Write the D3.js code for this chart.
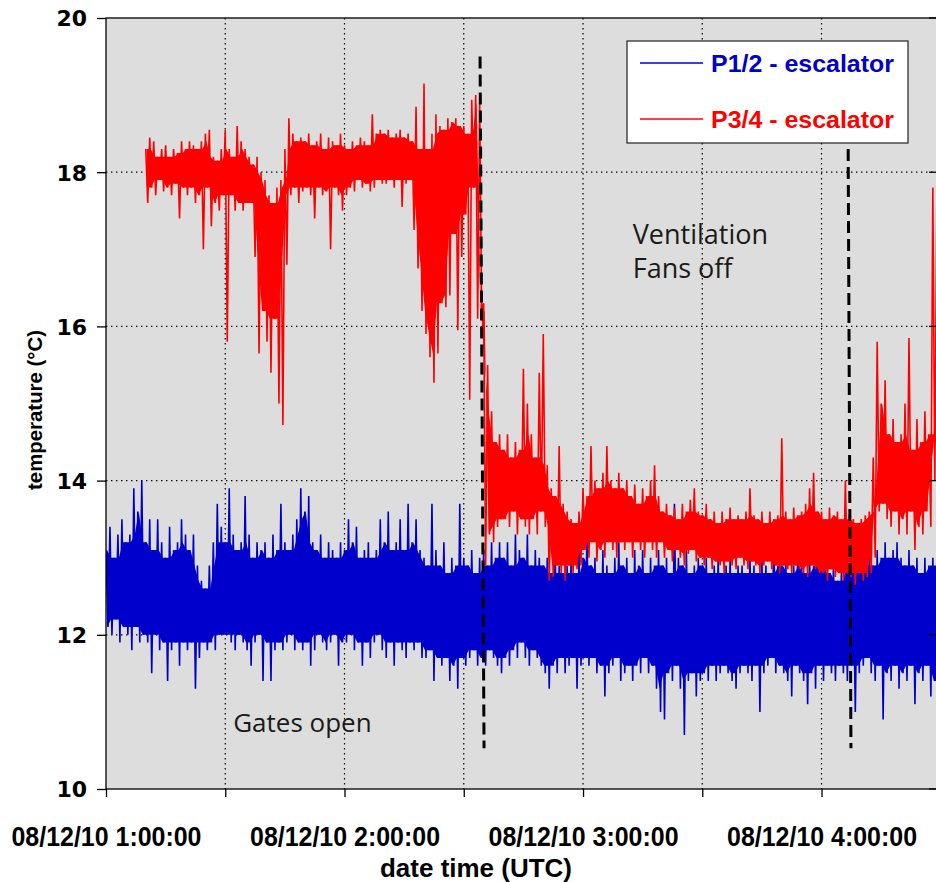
<!DOCTYPE html>
<html><head><meta charset="utf-8">
<script src="https://cdn.jsdelivr.net/npm/d3@7"></script>
<style>body{margin:0;background:#fff;}svg{display:block;}</style>
</head><body>
<svg id="chart" width="936" height="882"></svg>
<script>
// ---------- data (minutes after 08/12/10 1:00:00 UTC, temperature in °C) ----------
const yTicks = [10, 12, 14, 16, 18, 20];
const xTickMinutes = [0, 30, 60, 90, 120, 150, 180];
const xTickLabels = {0: "08/12/10 1:00:00", 60: "08/12/10 2:00:00", 120: "08/12/10 3:00:00", 180: "08/12/10 4:00:00"};
const seriesNames = ["P1/2 - escalator", "P3/4 - escalator"];
const seriesColors = ["#0000cc", "#ff0000"];

// P1/2 escalator: per-minute high / low readings, starting at minute 0
const blueStart = 0;
const blueHi = [
13.1,13.4,13.0,13.3,13.5,13.2,13.3,13.9,13.6,14.0,
13.2,13.5,13.1,13.5,13.2,13.0,13.4,13.1,13.2,13.5,
13.3,13.1,13.3,12.9,12.7,12.6,12.9,13.2,13.7,13.4,
13.2,13.9,13.3,13.1,13.2,13.8,13.3,13.0,13.2,13.1,
13.2,13.0,13.3,13.1,13.7,13.2,13.1,13.3,13.5,13.9,
13.6,13.8,13.2,13.1,13.3,13.0,13.2,13.1,13.0,13.2,
13.1,13.5,13.2,13.4,13.0,13.1,13.2,13.0,13.1,13.5,
13.2,13.6,13.1,13.2,13.5,13.1,13.7,13.2,13.5,13.1,
13.0,12.9,13.7,13.1,12.9,13.2,12.8,13.0,12.9,13.7,
13.0,12.9,13.1,12.8,13.0,13.1,12.9,13.2,13.0,13.2,
13.0,13.2,12.9,13.3,13.1,13.0,13.3,12.9,13.1,13.0,
12.9,13.0,12.8,13.1,12.9,12.8,12.9,13.0,12.8,13.1,
13.0,13.3,12.9,13.0,12.8,13.1,12.9,12.8,13.0,13.2,
12.9,13.0,12.8,13.1,12.9,13.1,12.8,13.0,12.9,13.1,
12.9,13.0,12.8,13.7,13.0,12.9,13.1,12.8,12.9,13.0,
12.9,13.0,12.8,12.9,13.0,12.8,12.9,13.0,12.8,12.9,
12.9,12.8,13.0,12.9,12.8,13.0,12.9,12.8,13.3,12.9,
12.9,13.0,12.8,12.9,13.0,12.9,12.8,13.0,12.9,13.1,
12.9,13.0,12.8,12.9,12.7,12.8,13.0,12.9,12.8,12.9,
13.0,12.9,13.0,12.9,13.1,13.0,13.2,13.0,13.1,13.2,
13.0,12.9,13.1,12.9,13.0,12.8,13.0,12.9,13.0,12.9
];
const blueLo = [
12.1,12.0,12.2,11.9,12.1,12.0,11.8,12.1,11.9,12.0,
11.9,11.5,12.0,11.8,11.9,11.4,11.8,11.9,11.6,11.9,
11.8,11.9,11.3,11.7,11.9,11.8,11.9,11.8,12.0,12.0,
12.0,11.9,11.8,12.0,11.9,11.8,11.6,11.9,12.0,11.4,
11.9,11.4,11.8,11.9,11.8,11.9,12.0,11.8,11.9,11.8,
11.9,11.6,11.8,12.0,11.9,11.8,11.9,12.0,11.6,11.9,
11.9,12.0,11.8,11.9,11.6,11.9,11.7,11.9,12.0,11.8,
11.7,11.9,11.6,11.9,11.8,11.7,11.9,11.8,11.9,11.7,
11.7,11.8,11.4,11.7,11.6,11.7,11.4,11.6,11.3,11.7,
11.6,11.7,11.8,11.6,11.7,11.6,11.8,11.7,11.6,11.5,
11.7,11.6,11.8,11.7,11.9,11.7,11.6,11.8,11.7,11.6,
11.5,11.3,11.6,11.5,11.7,11.5,11.6,11.7,11.3,11.6,
11.7,11.6,11.7,11.5,11.6,11.2,11.5,11.6,11.7,11.4,
11.5,11.6,11.4,11.6,11.5,11.7,11.5,11.6,11.3,11.0,
10.9,11.5,11.4,11.6,11.3,10.7,11.4,11.5,11.2,11.4,
11.5,11.4,11.6,11.4,11.5,11.6,11.5,11.4,11.3,11.5,
11.6,11.5,11.4,11.6,11.0,11.5,11.6,11.7,11.5,11.6,
11.5,11.4,11.2,11.6,11.5,11.4,11.1,11.5,11.3,11.6,
11.4,11.6,11.5,11.4,11.6,11.5,11.4,11.6,11.0,11.5,
11.6,11.7,11.5,11.4,11.6,10.9,11.5,11.4,11.6,11.3,
11.5,11.4,11.6,11.1,11.5,11.4,11.6,11.2,11.4,11.3
];

// P3/4 escalator: per-minute high / low readings, starting at minute 10
const redStart = 10;
const redHi = [
18.3,18.45,18.4,18.2,18.3,18.35,18.2,18.3,18.25,18.4,
18.3,18.4,18.35,18.3,18.4,18.5,18.55,18.2,18.15,18.3,
18.55,18.3,18.2,18.6,18.4,18.3,18.2,18.1,18.2,18.0,
17.9,17.7,17.6,17.8,17.9,18.3,18.7,18.5,18.4,18.45,
18.4,18.5,18.35,18.4,18.5,18.3,18.45,18.4,18.35,18.5,
18.35,18.3,18.4,18.35,18.45,18.4,18.35,18.75,18.5,18.55,
18.5,18.55,18.45,18.5,18.55,18.45,18.5,18.4,18.85,18.3,
19.15,18.3,18.5,18.75,18.6,18.55,18.7,18.65,18.7,18.6,
18.6,18.5,18.94,19.0,18.9,16.3,15.5,14.9,14.5,14.6,
14.4,14.6,14.3,14.5,14.4,15.45,15.0,14.6,14.3,15.4,
15.9,14.2,13.9,13.8,14.45,13.7,13.6,13.5,13.45,13.6,
13.9,13.8,14.45,14.0,13.9,14.1,14.45,14.0,13.9,14.1,
13.9,14.0,13.8,13.95,13.7,13.9,13.8,14.0,14.2,13.8,
13.6,13.7,13.55,13.65,13.5,13.7,13.6,13.75,13.9,13.6,
13.55,13.7,13.5,13.6,13.45,13.6,13.5,13.65,13.5,13.55,
13.5,13.6,13.9,13.55,13.5,13.6,13.45,13.6,13.5,13.55,
14.55,13.6,13.5,13.65,13.55,13.6,13.7,13.9,14.1,13.6,
13.6,13.5,13.65,13.55,13.6,13.5,14.0,13.55,13.5,13.45,
13.5,13.55,13.6,14.3,15.8,15.0,15.3,14.6,14.8,14.5,
14.6,15.0,15.85,14.4,14.8,14.5,14.9,14.6,17.8,17.6
];
const redLo = [
17.6,17.8,17.7,17.9,17.75,17.8,17.7,17.85,17.4,17.8,
17.7,17.8,17.6,17.7,17.0,17.8,17.3,17.6,17.5,17.7,
15.8,17.7,17.5,17.6,17.5,17.6,17.6,16.9,15.65,16.2,
15.8,15.4,16.1,15.0,14.72,16.8,17.7,17.8,17.6,17.75,
17.8,17.7,17.4,17.8,17.7,17.75,17.0,17.8,17.7,17.5,
17.7,17.8,17.75,17.9,17.8,17.85,17.75,17.8,17.9,17.85,
17.85,17.9,17.8,17.9,17.55,17.85,17.9,17.25,16.75,16.2,
15.9,15.6,15.27,15.65,16.3,16.25,16.4,17.2,15.95,16.9,
17.45,15.05,17.8,16.1,16.2,12.9,13.3,13.2,13.4,13.5,
13.5,13.4,13.6,13.3,13.5,13.4,13.3,13.5,13.3,13.6,
13.4,12.7,12.75,12.9,12.8,12.7,12.9,12.8,12.85,12.9,
13.1,13.0,13.2,12.95,13.1,13.0,13.2,13.1,13.0,13.2,
13.1,13.2,13.0,13.2,13.1,13.0,13.2,13.1,13.0,13.2,
13.0,13.1,12.95,13.1,13.0,12.9,13.05,13.1,12.95,13.0,
12.9,13.0,12.85,12.95,12.9,12.8,12.95,12.9,12.85,13.0,
12.9,12.85,12.95,12.9,12.8,12.9,12.95,12.85,12.9,12.8,
12.9,12.85,12.8,12.9,12.85,12.8,12.75,12.9,12.85,12.8,
12.8,12.7,12.85,12.75,12.8,12.7,12.8,12.75,12.65,12.8,
12.7,12.75,12.8,13.0,13.6,13.7,13.5,13.4,13.6,13.3,
13.5,13.3,13.6,13.1,13.4,13.3,13.6,13.4,14.0,14.5
];

// dashed event markers (minute / temperature at each end)
const markerTopMin = [94.1, 186.7];
const markerTopVal = [19.5, 18.3];
const markerBotMin = [95.1, 187.4];
const markerBotVal = [10.53, 10.53];

// annotations
const annotations = [
  {lines: ["Ventilation", "Fans off"], t: 132.5, v: 17.07, size: 27},
  {lines: ["Gates open"], t: 32, v: 10.74, size: 26}
];

// ---------- drawing ----------
const svg = d3.select("#chart");
const L = 106, R = 938, T = 18, B = 789;
const x = d3.scaleLinear().domain([0, 209.3]).range([L, R]);
const y = d3.scaleLinear().domain([10, 20]).range([B, T]);

svg.append("defs").append("clipPath").attr("id", "clip")
  .append("rect").attr("x", L).attr("y", T).attr("width", R - L).attr("height", B - T);

svg.append("rect").attr("x", L).attr("y", T).attr("width", R - L).attr("height", B - T)
  .attr("fill", "#dcdddc");

// grid
const grid = svg.append("g").attr("stroke", "#000").attr("stroke-width", 1.2)
  .attr("stroke-dasharray", "1.4,3.6");
grid.selectAll(".gy").data(yTicks.filter(v => v > 10 && v < 20)).join("line")
  .attr("x1", L).attr("x2", R).attr("y1", d => y(d)).attr("y2", d => y(d));
grid.selectAll(".gx").data(xTickMinutes.filter(m => m > 0)).join("line")
  .attr("y1", T).attr("y2", B).attr("x1", d => x(d)).attr("x2", d => x(d));

// series: zig-zag through each minute's high then low reading, over a solid core band
function samples(start, hi, lo) {
  const out = [];
  hi.forEach((h, i) => { out.push({t: start + i, v: h}); out.push({t: start + i + 0.5, v: lo[i]}); });
  return out;
}
function core(start, hi, lo) {
  return hi.map((h, i) => {
    const a = Math.max(0, i - 1), b = Math.min(hi.length, i + 2);
    return {t: start + i + 0.25, top: d3.min(hi.slice(a, b)), bot: d3.max(lo.slice(a, b))};
  });
}
const line = d3.line().x(d => x(d.t)).y(d => y(d.v));
const area = d3.area().x(d => x(d.t)).y0(d => y(d.bot)).y1(d => y(d.top));
const plot = svg.append("g").attr("clip-path", "url(#clip)");
[[blueStart, blueHi, blueLo], [redStart, redHi, redLo]].forEach(([s, hi, lo], k) => {
  plot.append("path").datum(core(s, hi, lo))
    .attr("fill", seriesColors[k]).attr("stroke", "none").attr("d", area);
  plot.append("path").datum(samples(s, hi, lo))
    .attr("fill", "none").attr("stroke", seriesColors[k]).attr("stroke-width", 1.6).attr("d", line);
});

// dashed markers
plot.selectAll(".mk").data(markerTopMin).join("line")
  .attr("x1", (d, i) => x(d)).attr("y1", (d, i) => y(markerTopVal[i]))
  .attr("x2", (d, i) => x(markerBotMin[i])).attr("y2", (d, i) => y(markerBotVal[i]))
  .attr("stroke", "#000").attr("stroke-width", 3).attr("stroke-dasharray", "12,6");

// annotations
annotations.forEach(a => {
  const t = svg.append("text").attr("x", x(a.t)).attr("y", y(a.v))
    .attr("font-family", "'Open Sans', sans-serif").attr("font-size", a.size).attr("fill", "#1a1a1a");
  a.lines.forEach((s, i) => t.append("tspan").attr("x", x(a.t)).attr("dy", i ? 34 : 0).text(s));
});

// frame
svg.append("rect").attr("x", L).attr("y", T).attr("width", R - L).attr("height", B - T)
  .attr("fill", "none").attr("stroke", "#000").attr("stroke-width", 1.3);

// axes
const yAxis = svg.append("g").attr("transform", `translate(${L},0)`)
  .call(d3.axisLeft(y).tickValues(yTicks).tickSize(9).tickFormat(d3.format("d")));
yAxis.select(".domain").remove();
yAxis.selectAll("text").attr("x", -19).attr("dy", "0.36em")
  .attr("font-family", "'DejaVu Sans', sans-serif").attr("font-weight", "bold").attr("font-size", 22).attr("fill", "#000");
yAxis.selectAll("line").attr("stroke", "#000").attr("stroke-width", 1.3);

// right side inner ticks
svg.append("g").selectAll("line").data(yTicks).join("line")
  .attr("x1", R - 9).attr("x2", R).attr("y1", d => y(d)).attr("y2", d => y(d))
  .attr("stroke", "#000").attr("stroke-width", 1.3);

const xAxis = svg.append("g").attr("transform", `translate(0,${B})`)
  .call(d3.axisBottom(x).tickValues(xTickMinutes).tickSize(8).tickFormat(m => xTickLabels[m] || ""));
xAxis.select(".domain").remove();
xAxis.selectAll("line").attr("stroke", "#000").attr("stroke-width", 1.3);
xAxis.selectAll("text").attr("y", 57).attr("dy", 0)
  .attr("font-family", "'Liberation Sans', Arial, sans-serif").attr("font-weight", "bold")
  .attr("font-size", 27).attr("fill", "#000")
  .each(function(m) { if (xTickLabels[m]) d3.select(this).attr("textLength", 190).attr("lengthAdjust", "spacingAndGlyphs"); });

// axis titles
svg.append("text").attr("x", 476).attr("y", 877).attr("text-anchor", "middle")
  .attr("font-family", "'Liberation Sans', Arial, sans-serif").attr("font-weight", "bold").attr("font-size", 26)
  .attr("textLength", 192).attr("lengthAdjust", "spacingAndGlyphs").text("date time (UTC)");
svg.append("text").attr("transform", "translate(42,410) rotate(-90)").attr("text-anchor", "middle")
  .attr("font-family", "'Liberation Sans', Arial, sans-serif").attr("font-weight", "bold").attr("font-size", 21)
  .attr("textLength", 160).attr("lengthAdjust", "spacingAndGlyphs").text("temperature (°C)");

// legend
const lg = svg.append("g");
lg.append("rect").attr("x", 627).attr("y", 41).attr("width", 281).attr("height", 102)
  .attr("fill", "#fff").attr("stroke", "#222").attr("stroke-width", 1.2);
seriesNames.forEach((n, i) => {
  const yy = 63 + i * 56;
  lg.append("line").attr("x1", 640).attr("x2", 703).attr("y1", yy).attr("y2", yy)
    .attr("stroke", seriesColors[i]).attr("stroke-width", 1.5);
  lg.append("text").attr("x", 711).attr("y", yy + 9).attr("fill", seriesColors[i])
    .attr("font-family", "'Liberation Sans', Arial, sans-serif").attr("font-weight", "bold").attr("font-size", 24)
    .attr("textLength", 183).attr("lengthAdjust", "spacingAndGlyphs")
    .text(n);
});
</script>
</body></html>
